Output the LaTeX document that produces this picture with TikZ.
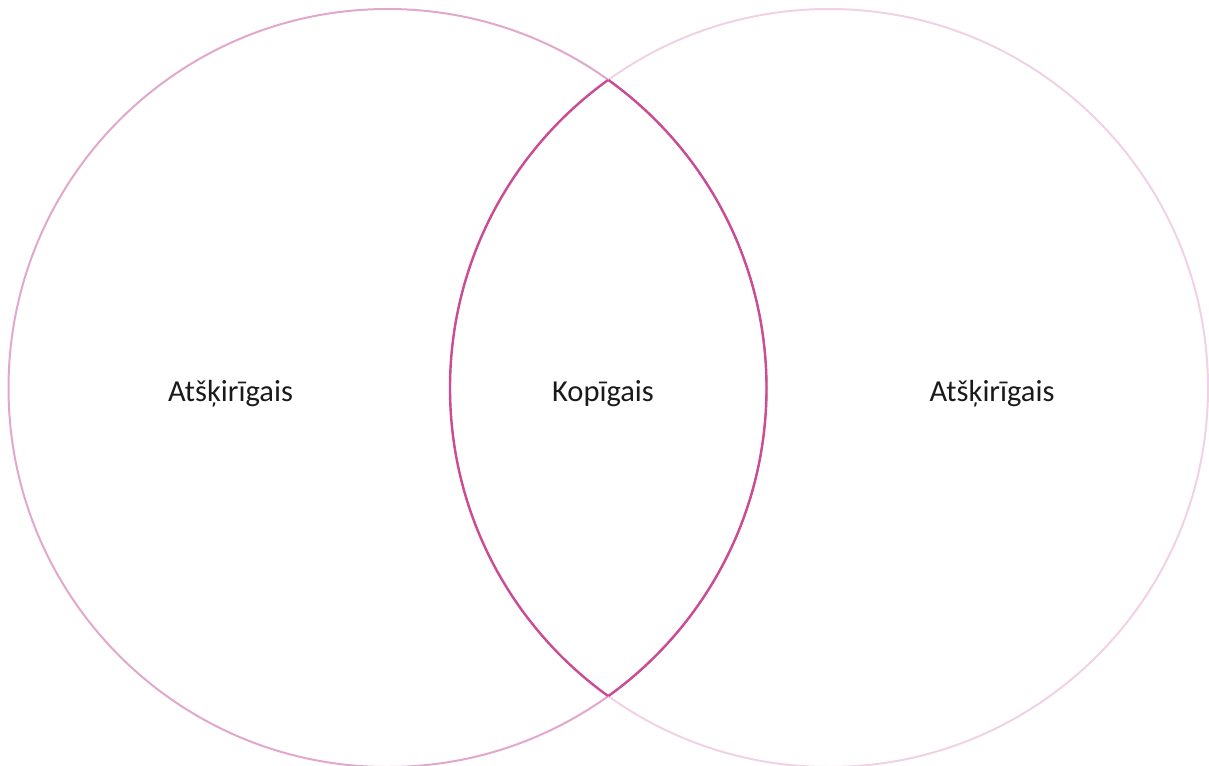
\documentclass[tikz,border=0pt]{standalone}
\usepackage{fontspec}
\setmainfont{Carlito}
\definecolor{leftc}{HTML}{E2A8CC}
\definecolor{rightc}{HTML}{F0D2E4}
\definecolor{lensc}{HTML}{CC4C94}
\definecolor{txt}{HTML}{1A1A1A}
\tikzset{lbl/.style={font=\fontsize{30.5}{34}\selectfont, text=txt, inner sep=0pt}}
\begin{document}
\begin{tikzpicture}[x=1pt,y=-1pt]
\useasboundingbox (0,0) rectangle (1209,765);
\coordinate (cl) at (387.5,388);
\coordinate (cr) at (829,388);
\draw[leftc, line width=2pt] (cl) circle[radius=379];
\draw[rightc, line width=2pt] (cr) circle[radius=379];
\begin{scope}
\clip (cl) circle[radius=379];
\draw[lensc, line width=2.4pt] (cr) circle[radius=379];
\end{scope}
\begin{scope}
\clip (cr) circle[radius=379];
\draw[lensc, line width=2.4pt] (cl) circle[radius=379];
\end{scope}
\node[lbl] (a) at (230.5,393.5) {Atšķirīgais};
\node[lbl] (b) at (603,393.5) {Kopīgais};
\node[lbl] (c) at (992,393.5) {Atšķirīgais};
\end{tikzpicture}
\end{document}
